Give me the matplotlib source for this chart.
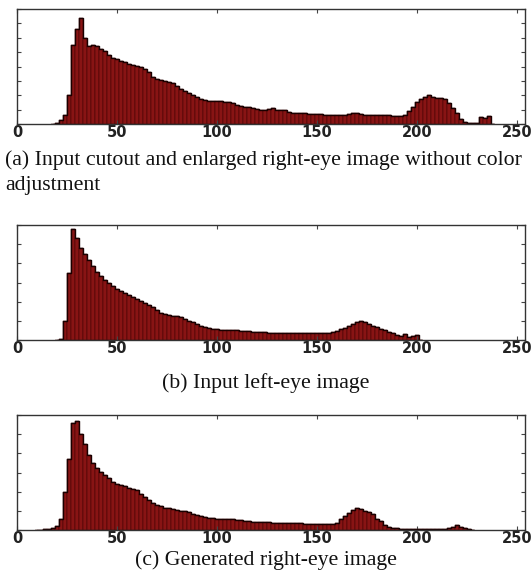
import matplotlib
matplotlib.use("Agg")
import matplotlib.pyplot as plt
import numpy as np

# ---- data (histogram heights, arbitrary units; bins of width 2) ----
a_start = 18
a_vals = [0.0, 0.05, 0.25, 0.6, 2.0, 5.5, 6.6, 7.4, 6.0, 5.4, 5.5, 5.4, 5.2, 5.1, 4.8,
          4.6, 4.5, 4.4, 4.3, 4.2, 4.1, 4.05, 4.0, 3.8, 3.6, 3.3, 3.1, 3.05, 3.0, 2.95,
          2.85, 2.65, 2.45, 2.3, 2.15, 2.0, 1.9, 1.75, 1.68, 1.62, 1.6, 1.6, 1.58, 1.55,
          1.5, 1.45, 1.35, 1.28, 1.2, 1.15, 1.1, 1.05, 1.0, 0.97, 1.05, 1.08, 1.0, 0.97,
          0.95, 0.85, 0.8, 0.78, 0.76, 0.74, 0.72, 0.7, 0.7, 0.68, 0.66, 0.64, 0.63, 0.63,
          0.64, 0.66, 0.7, 0.75, 0.78, 0.72, 0.66, 0.63, 0.62, 0.63, 0.64, 0.62, 0.6, 0.58,
          0.56, 0.58, 0.62, 0.9, 1.2, 1.55, 1.75, 1.9, 2.0, 1.9, 1.8, 1.78, 1.75, 1.45,
          1.1, 0.75, 0.35, 0.12, 0.08, 0.08, 0.1, 0.5, 0.45, 0.55, 0.0]

b_start = 20
b_vals = [0.0, 0.05, 1.0, 3.5, 5.77, 5.3, 4.8, 4.5, 4.15, 3.85, 3.55, 3.35, 3.15, 2.95,
          2.8, 2.65, 2.55, 2.45, 2.35, 2.26, 2.15, 2.05, 1.93, 1.83, 1.7, 1.55, 1.42, 1.35,
          1.3, 1.27, 1.23, 1.2, 1.12, 1.0, 0.95, 0.85, 0.75, 0.67, 0.62, 0.58, 0.56, 0.54,
          0.52, 0.51, 0.5, 0.5, 0.49, 0.49, 0.47, 0.44, 0.42, 0.4, 0.4, 0.39, 0.38, 0.37,
          0.37, 0.36, 0.35, 0.35, 0.35, 0.35, 0.34, 0.34, 0.35, 0.36, 0.37, 0.38, 0.38,
          0.42, 0.48, 0.55, 0.65, 0.75, 0.85, 0.95, 1.0, 0.95, 0.82, 0.75, 0.67, 0.6, 0.52,
          0.43, 0.35, 0.25, 0.2, 0.3, 0.15, 0.22, 0.25, 0.0]

c_start = 10
c_vals = [0.01, 0.02, 0.03, 0.05, 0.1, 0.2, 0.55, 2.0, 3.7, 5.6, 5.7, 5.0, 4.5, 3.9, 3.5,
          3.25, 3.05, 2.85, 2.7, 2.52, 2.4, 2.33, 2.27, 2.2, 2.13, 2.07, 1.88, 1.7, 1.55,
          1.4, 1.3, 1.23, 1.17, 1.14, 1.1, 1.05, 1.0, 0.97, 0.92, 0.86, 0.8, 0.75, 0.7, 0.65,
          0.62, 0.6, 0.58, 0.57, 0.56, 0.56, 0.53, 0.5, 0.47, 0.45, 0.44, 0.43, 0.43, 0.42,
          0.41, 0.39, 0.37, 0.36, 0.36, 0.35, 0.35, 0.35, 0.34, 0.33, 0.33, 0.32, 0.32, 0.31,
          0.31, 0.31, 0.32, 0.36, 0.55, 0.75, 0.9, 1.02, 1.15, 1.1, 0.98, 0.95, 0.85, 0.6,
          0.45, 0.28, 0.18, 0.12, 0.09, 0.06, 0.05, 0.04, 0.04, 0.03, 0.03, 0.03, 0.03, 0.03,
          0.03, 0.03, 0.03, 0.08, 0.15, 0.24, 0.15, 0.13, 0.06, 0.0]

panels = [
    (a_start, a_vals, 8),
    (b_start, b_vals, 6),
    (c_start, c_vals, 6),
]
xticks = [0, 50, 100, 150, 200, 250]
captions = ["(b) Input left-eye image", "(c) Generated right-eye image"]
caption_a = ["(a) Input cutout and enlarged right-eye image without color", "adjustment"]

W, H = 531, 574
fig = plt.figure(figsize=(W / 100, H / 100), dpi=100)

boxes = [(9, 124), (225, 340), (415, 530)]
left, right = 17, 525

for (start, vals, ymax), (top, bot) in zip(panels, boxes):
    ax = fig.add_axes([left / W, 1 - bot / H, (right - left) / W, (bot - top) / H])
    x = start + 2 * np.arange(len(vals))
    ax.bar(x, vals, width=2, align="center", color="#881414",
           edgecolor="#3a0000", linewidth=0.35)
    ax.step(x, vals, where="mid", color="#1a0000", linewidth=1.0)
    ax.set_xlim(0, 254)
    ax.set_ylim(0, ymax)
    ax.set_xticks(xticks)
    ax.set_xticklabels([str(t) for t in xticks], fontsize=10.5, fontweight="bold",
                       color="#222222")
    ax.set_yticks(range(0, ymax + 1))
    ax.set_yticklabels([])
    ax.tick_params(axis="both", direction="in", top=True, right=True, length=3,
                   width=0.8, color="#444444", pad=1)
    for s in ax.spines.values():
        s.set_color("#333333")
        s.set_linewidth(1.0)

serif = ["Liberation Serif", "DejaVu Serif"]
fs = 15.7
fig.text(5 / W, 1 - 165 / H, caption_a[0], family=serif, fontsize=fs,
         ha="left", va="baseline", color="#111111")
fig.text(5 / W, 1 - 190 / H, caption_a[1], family=serif, fontsize=fs,
         ha="left", va="baseline", color="#111111")
fig.text(0.5, 1 - 388 / H, captions[0], family=serif, fontsize=fs,
         ha="center", va="baseline", color="#111111")
fig.text(0.5, 1 - 565 / H, captions[1], family=serif, fontsize=fs,
         ha="center", va="baseline", color="#111111")

fig.savefig("out.png", dpi=100)
